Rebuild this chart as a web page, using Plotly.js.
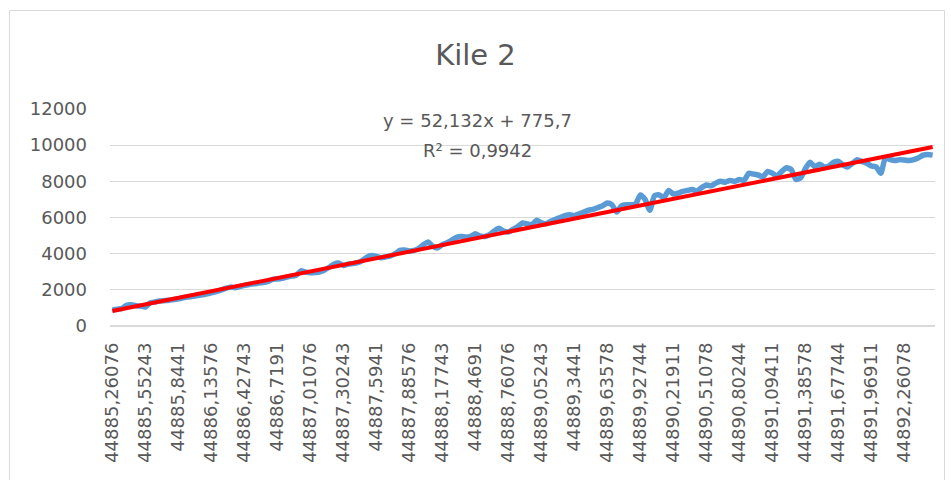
<!DOCTYPE html>
<html>
<head>
<meta charset="utf-8">
<script src="https://cdn.plot.ly/plotly-3.0.1.min.js"></script>
<style>html,body{margin:0;padding:0;background:#fff;}#chart{width:951px;height:480px;}</style>
</head>
<body>
<div id="chart"></div>
<script>
// Category index (1..175), hourly timestamps; labels shown every 7th category
var tickLabels = ["44885,26076","44885,55243","44885,8441","44886,13576","44886,42743","44886,7191","44887,01076","44887,30243","44887,5941","44887,88576","44888,17743","44888,4691","44888,76076","44889,05243","44889,3441","44889,63578","44889,92744","44890,21911","44890,51078","44890,80244","44891,09411","44891,38578","44891,67744","44891,96911","44892,26078"];

var values = [
  880, 930, 960, 1150, 1180, 1120, 1100, 1050, 1280, 1330,
  1380, 1400, 1420, 1470, 1500, 1560, 1600, 1640, 1690, 1720,
  1780, 1830, 1900, 1980, 2080, 2150, 2120, 2180, 2250, 2300,
  2330, 2380, 2400, 2460, 2580, 2600, 2640, 2700, 2760, 2800,
  3050, 2980, 2950, 2960, 3000, 3100, 3250, 3420, 3480, 3350,
  3420, 3450, 3500, 3620, 3800, 3900, 3850, 3780, 3820, 3880,
  4000, 4180, 4200, 4150, 4180, 4300, 4500, 4640, 4400, 4320,
  4500, 4600, 4750, 4900, 4950, 4920, 4960, 5100, 4980, 4950,
  5050, 5250, 5400, 5250, 5200, 5350, 5500, 5700, 5650, 5600,
  5850, 5700, 5650, 5800, 5900, 6000, 6100, 6150, 6100, 6200,
  6300, 6400, 6450, 6550, 6650, 6800, 6700, 6300, 6650, 6700,
  6700, 6750, 7250, 7000, 6400, 7200, 7250, 7100, 7500, 7300,
  7350, 7450, 7500, 7550, 7450, 7650, 7800, 7750, 7900, 8000,
  7950, 8050, 8000, 8100, 8050, 8450, 8400, 8350, 8250, 8550,
  8450, 8300, 8550, 8750, 8650, 8100, 8200, 8700, 9050, 8800,
  8950, 8800, 8850, 9050, 9100, 8900, 8800, 9000, 9200, 9100,
  9000, 8850, 8800, 8450, 9300, 9200, 9150, 9200, 9180, 9150,
  9200, 9300, 9450, 9480, 9450
];

// Linear trendline from the displayed equation
var slope = 52.132;
var intercept = 775.7;
var rSquared = "0,9942";

var xs = values.map(function(_, i){ return i + 1; });
var tickVals = tickLabels.map(function(_, i){ return 1 + 7 * i; });
var n = values.length;
var trendX = [1, n];
var trendY = trendX.map(function(x){ return slope * x + intercept; });

var font = "DejaVu Sans, sans-serif";
var grey = "#595959";

var traces = [
  {x: xs, y: values, type: "scatter", mode: "lines",
   line: {color: "#5B9BD5", width: 5.5, shape: "spline", smoothing: 0.6},
   hoverinfo: "skip", showlegend: false},
  {x: trendX, y: trendY, type: "scatter", mode: "lines",
   line: {color: "#FF0000", width: 4},
   hoverinfo: "skip", showlegend: false}
];

var layout = {
  width: 951, height: 480,
  margin: {l: 110, r: 16, t: 109, b: 154},
  paper_bgcolor: "#ffffff", plot_bgcolor: "#ffffff",
  showlegend: false,
  title: {text: "Kile 2", font: {family: font, size: 29, color: grey},
          x: 0.5, xref: "container", xanchor: "center",
          y: 1 - 55/480, yref: "container", yanchor: "middle"},
  xaxis: {range: [0.5, n + 0.5], showgrid: false, zeroline: false,
          showline: false, tickmode: "array", tickvals: tickVals, ticktext: tickLabels,
          tickangle: -90, ticks: "", ticklabelstandoff: 12,
          tickfont: {family: font, size: 18, color: grey}, fixedrange: true},
  yaxis: {range: [0, 12000], dtick: 2000, tick0: 0, tickformat: "d", showgrid: true,
          gridcolor: "#D9D9D9", gridwidth: 1.3, zeroline: true, zerolinecolor: "#D9D9D9",
          zerolinewidth: 1.3, showline: false, ticks: "", ticklabelstandoff: 22,
          tickfont: {family: font, size: 18, color: grey}, fixedrange: true},
  annotations: [
    {xref: "paper", yref: "paper", x: (477-110)/825, y: (326-120)/217,
     text: "y = " + String(slope).replace(".", ",") + "x + " + String(intercept).replace(".", ","),
     showarrow: false, xanchor: "center", yanchor: "middle",
     font: {family: font, size: 18, color: grey}},
    {xref: "paper", yref: "paper", x: (477-110)/825, y: (326-150)/217,
     text: "R² = " + rSquared,
     showarrow: false, xanchor: "center", yanchor: "middle",
     font: {family: font, size: 18, color: grey}}
  ],
  shapes: [
    {type: "rect", xref: "paper", yref: "paper",
     x0: (9.5-110)/825, x1: (944.5-110)/825, y0: (326-495)/217, y1: (326-10.5)/217,
     line: {color: "#D9D9D9", width: 1}, fillcolor: "rgba(0,0,0,0)", layer: "below"}
  ]
};

Plotly.newPlot("chart", traces, layout, {staticPlot: true, displayModeBar: false});
</script>
</body>
</html>
